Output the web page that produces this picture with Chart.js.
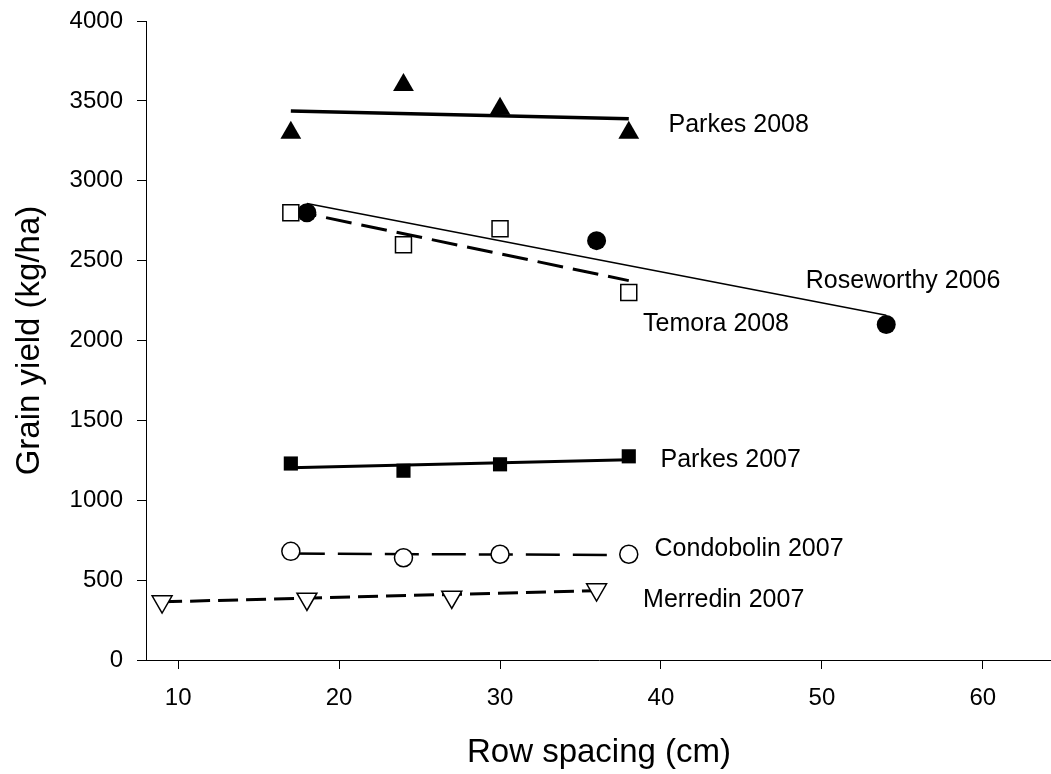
<!DOCTYPE html>
<html>
<head>
<meta charset="utf-8">
<title>Grain yield and row spacing</title>
<script src="https://cdn.jsdelivr.net/npm/chart.js@4.4.1/dist/chart.umd.min.js"></script>
<style>
  html, body { margin: 0; padding: 0; background: #fff; overflow: hidden; }
  #wrap { position: relative; width: 1065px; height: 774px; }
</style>
</head>
<body>
<div id="wrap"><canvas id="yieldChart"></canvas></div>
<script>
// Sitios (etiquetas junto a cada serie)
const siteNames = ['Parkes 2008', 'Roseworthy 2006', 'Temora 2008', 'Parkes 2007', 'Condobolin 2007', 'Merredin 2007'];

// Espaciamiento entre hileras (cm) y rendimiento (kg/ha) medidos
const parkes08Spacing = [17, 24, 30, 38];
const parkes08Yield = [3300, 3600, 3450, 3300];
const roseworthySpacing = [18, 36, 54];
const roseworthyYield = [2800, 2625, 2100];
const temoraSpacing = [17, 24, 30, 38];
const temoraYield = [2800, 2600, 2700, 2300];
const parkes07Spacing = [17, 24, 30, 38];
const parkes07Yield = [1230, 1185, 1225, 1275];
const condobolinSpacing = [17, 24, 30, 38];
const condobolinYield = [680, 640, 662, 662];
const merredinSpacing = [9, 18, 27, 36];
const merredinYield = [366, 382, 395, 441];

// Rectas de regresión (extremos)
const parkes08FitSpacing = [17, 38];
const parkes08FitYield = [3437, 3388];
const roseworthyFitSpacing = [18, 54];
const roseworthyFitYield = [2858, 2158];
const temoraFitSpacing = [17, 38];
const temoraFitYield = [2815, 2375];
const parkes07FitSpacing = [17, 38];
const parkes07FitYield = [1203, 1254];
const condobolinFitSpacing = [17, 38];
const condobolinFitYield = [666, 657];
const merredinFitSpacing = [9, 36];
const merredinFitYield = [364, 434];

// Marcas de los ejes
const xTicks = [10, 20, 30, 40, 50, 60];
const yTicks = [0, 500, 1000, 1500, 2000, 2500, 3000, 3500, 4000];

const FONT = 'Arial, "Liberation Sans", Helvetica, sans-serif';

// Ubicación de cada etiqueta en unidades de los ejes (borde izquierdo, línea base)
const labelAnchors = [
    [40.47, 3303],
    [49.0, 2327],
    [38.89, 2061],
    [39.97, 1210],
    [39.6, 653],
    [38.89, 334]
];

function toPoints(xs, ys) {
    return xs.map((x, i) => ({ x: x, y: ys[i] }));
}

function fitLine(xs, ys, width, dash) {
    return {
        data: toPoints(xs, ys),
        showLine: true,
        borderColor: '#000',
        borderWidth: width,
        borderDash: dash,
        pointRadius: 0,
        order: 2
    };
}

function markers(xs, ys, style, radius, filled, rotation) {
    return {
        data: toPoints(xs, ys),
        showLine: false,
        pointStyle: style,
        pointRadius: radius,
        pointRotation: rotation || 0,
        pointBackgroundColor: filled ? '#000' : '#fff',
        pointBorderColor: '#000',
        pointBorderWidth: filled ? 0 : 1.5,
        order: 1
    };
}

// Dibuja el nombre del sitio al lado de cada serie
const siteLabels = {
    id: 'siteLabels',
    afterDatasetsDraw(chart) {
        const { ctx, scales: { x, y } } = chart;
        ctx.save();
        ctx.font = '25px ' + FONT;
        ctx.fillStyle = '#000';
        ctx.textAlign = 'left';
        ctx.textBaseline = 'alphabetic';
        siteNames.forEach((name, i) => {
            const [ax, ay] = labelAnchors[i];
            ctx.fillText(name, x.getPixelForValue(ax), y.getPixelForValue(ay));
        });
        ctx.restore();
    }
};

const ctx = document.getElementById('yieldChart').getContext('2d');

window.myChart = new Chart(ctx, {
    type: 'scatter',
    data: {
        datasets: [
            fitLine(parkes08FitSpacing, parkes08FitYield, 3.5, []),
            fitLine(roseworthyFitSpacing, roseworthyFitYield, 1.5, []),
            fitLine(temoraFitSpacing, temoraFitYield, 3, [26, 10]),
            fitLine(parkes07FitSpacing, parkes07FitYield, 3, []),
            fitLine(condobolinFitSpacing, condobolinFitYield, 2.5, [34, 13]),
            fitLine(merredinFitSpacing, merredinFitYield, 3, [20, 8]),
            markers(parkes08Spacing, parkes08Yield, 'triangle', 12, true),
            markers(temoraSpacing, temoraYield, 'rect', 11.3, false),
            markers(roseworthySpacing, roseworthyYield, 'circle', 9.5, true),
            markers(parkes07Spacing, parkes07Yield, 'rect', 10, true),
            markers(condobolinSpacing, condobolinYield, 'circle', 9, false),
            markers(merredinSpacing, merredinYield, 'triangle', 11.5, false, 180)
        ]
    },
    options: {
        responsive: true,
        maintainAspectRatio: false,
        animation: false,
        events: [],
        layout: { padding: 0 },
        plugins: {
            legend: { display: false },
            tooltip: { enabled: false }
        },
        scales: {
            x: {
                type: 'linear',
                min: 8,
                max: 64.3,
                afterBuildTicks: s => { s.ticks = xTicks.map(v => ({ value: v })); },
                afterFit: s => { s.height = 114; },
                grid: { drawOnChartArea: false, drawTicks: true, tickLength: 9, tickColor: '#000', tickWidth: 1 },
                border: { display: true, color: '#000', width: 1 },
                ticks: { color: '#000', font: { family: FONT, size: 24 }, padding: 15, maxRotation: 0, autoSkip: false },
                title: {
                    display: true,
                    text: 'Row spacing (cm)',
                    color: '#000',
                    font: { family: FONT, size: 33 },
                    padding: { top: 0, bottom: 1 }
                }
            },
            y: {
                type: 'linear',
                min: 0,
                max: 4000,
                afterBuildTicks: s => { s.ticks = yTicks.map(v => ({ value: v })); },
                // ancho fijo del eje y margen superior sobre la marca 4000
                afterFit: s => { s.width = 146; s.paddingTop = 21; },
                grid: { drawOnChartArea: false, drawTicks: true, tickLength: 9, tickColor: '#000', tickWidth: 1 },
                border: { display: true, color: '#000', width: 1 },
                ticks: {
                    color: '#000',
                    font: { family: FONT, size: 24 },
                    padding: 14,
                    autoSkip: false,
                    callback: v => String(v)
                },
                title: {
                    display: true,
                    text: 'Grain yield (kg/ha)',
                    color: '#000',
                    font: { family: FONT, size: 33 },
                    padding: { top: 10, bottom: 0 }
                }
            }
        }
    },
    plugins: [siteLabels]
});
</script>
</body>
</html>
